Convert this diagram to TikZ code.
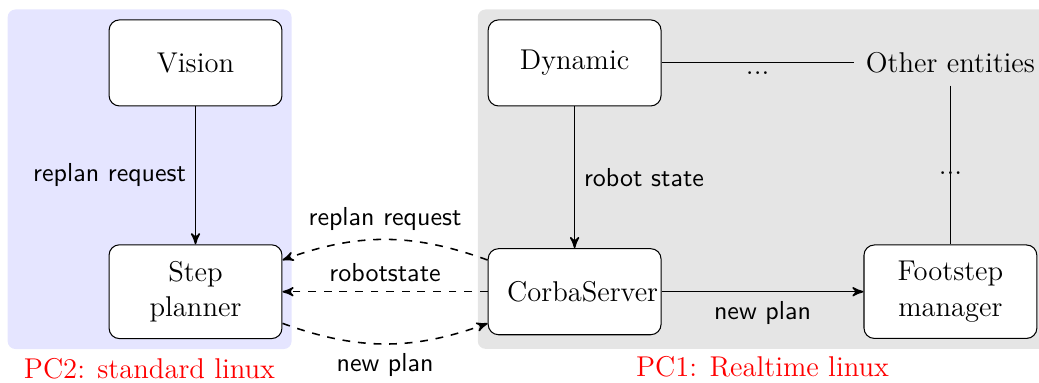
\documentclass[tikz,border=0pt]{standalone}
\usepackage{tikz}
\usetikzlibrary{calc, arrows, matrix, backgrounds, positioning}
\tikzset{>=stealth'}
\definecolor{pctwo}{rgb}{0.9,0.9,1}
\definecolor{pcone}{gray}{0.9}

\begin{document}
\begin{tikzpicture}[font=\fontsize{11}{13.6}\selectfont,
blk/.style={draw, fill=white, rounded corners=4pt, text width=51.9pt, align=center, inner xsep=7.3pt, inner ysep=6.3pt, minimum height=33.1pt},
lbl/.style={font=\sffamily\normalsize},
pclabel/.style={text=red, anchor=north}]
\matrix (m) 
[matrix of nodes, nodes={anchor=center}, row sep=53pt, column sep=78.9pt]
{
|[blk]| Vision & |[blk]| Dynamic &[-4.8pt] |[inner sep=4.5pt]| Other entities \\
|[blk]| Step planner & |[blk]| \mbox{CorbaServer} &[-4.8pt] |[blk]| Footstep manager \\
};
\path[->, semithick]
(m-1-1)
edge node[lbl, left] {replan request} (m-2-1)
(m-1-2)
edge node[lbl, right] {robot state} (m-2-2)
(m-2-2)
edge node[lbl, below] {new plan} (m-2-3)
;
\path[->, semithick, dashed]
(m-2-2.160)
edge[bend right=20] node[lbl, above] {replan request} (m-2-1.20)
(m-2-2)
edge node[lbl, above] {robotstate} (m-2-1)
(m-2-1.-20)
edge[bend right=20] node[lbl, below] {new plan} (m-2-2.200)
;
\path[thin]
(m-1-2)
edge node[below] {...} (m-1-3)
(m-1-3)
edge node[pos=.55] {...} (m-2-3)
;
\begin{scope}[on background layer]
\fill[pctwo, rounded corners=3pt] ($(m-1-1.north west)+(-38.8pt,3.8pt)$) rectangle ($(m-2-1.south east)+(3.5pt,-3.8pt)$);
\fill[pcone, rounded corners=3pt] ($(m-1-2.north west)+(-3.8pt,3.8pt)$) rectangle ($(m-2-3.south east)+(8pt,-3.8pt)$);
\end{scope}
\node[pclabel] (pc2) at ($(m-2-1.south)+(-17.7pt,-3.8pt)$) {PC2: standard linux};
\node[pclabel] (pc1) at ($(m-2-2.south)!.5!(m-2-3.south)+(0,-3.8pt)$) {PC1: Realtime linux};
\pgfresetboundingbox
\path[use as bounding box] ($(m-1-1.center)+(-75.2pt,24.2pt)$) rectangle ++(399.6pt,-147.3pt);
\end{tikzpicture}
\end{document}
